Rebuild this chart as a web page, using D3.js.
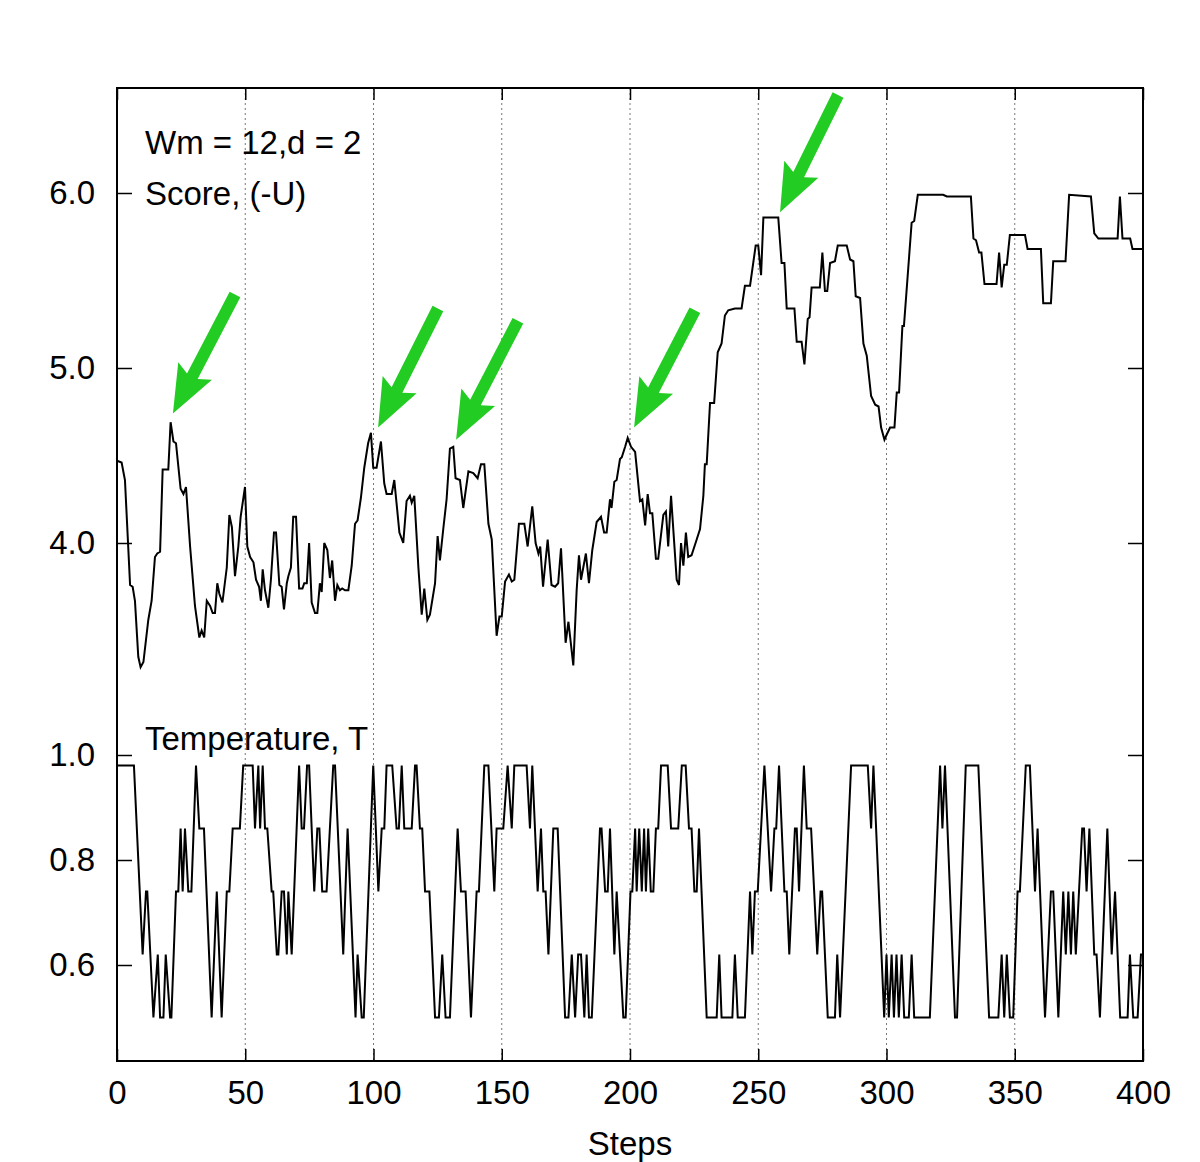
<!DOCTYPE html>
<html>
<head>
<meta charset="utf-8">
<script src="https://cdn.jsdelivr.net/npm/d3@7"></script>
<style>
  body { margin: 0; background: #fff; }
  text { font-family: "Liberation Sans", Arial, sans-serif; }
</style>
</head>
<body>
<div id="chart"></div>
<script>
// score, (-U) : [step, value]
var scorePts = [[0,4.47],[1.8,4.46],[3.1,4.36],[5.1,3.76],[6.1,3.75],[7,3.67],[8.3,3.35],[9.2,3.29],[10.3,3.32],[12.2,3.56],[13.5,3.67],[14.8,3.92],[15.7,3.94],[16.8,3.95],[17.8,4.42],[20,4.42],[20.9,4.69],[22,4.58],[23,4.57],[24.8,4.31],[25.9,4.28],[26.9,4.32],[28.5,3.98],[30.4,3.64],[32.1,3.46],[33,3.50],[34,3.46],[35,3.67],[36.3,3.64],[37.3,3.60],[38.2,3.60],[39.1,3.77],[39.9,3.71],[41.1,3.66],[42.8,3.86],[43.8,4.16],[44.8,4.09],[46,3.81],[47.3,3.98],[48.2,4.15],[49.9,4.32],[50.8,3.98],[51.9,3.92],[53.2,3.89],[54.2,3.79],[55.4,3.75],[56.1,3.67],[56.8,3.85],[57.7,3.73],[59,3.63],[60,3.79],[61.2,4.06],[62,4.06],[63.3,3.76],[64.2,3.75],[65.1,3.62],[66.2,3.77],[66.8,3.81],[67.8,3.86],[68.7,4.15],[69.8,4.15],[71,3.74],[72.3,3.74],[73,3.77],[74,3.77],[74.9,4.00],[75.9,3.66],[77.2,3.60],[78.1,3.60],[79.1,3.77],[79.8,3.72],[80.8,4.00],[82,3.96],[83,3.80],[83.9,3.90],[85,3.67],[85.9,3.76],[86.9,3.73],[87.8,3.74],[88.9,3.73],[90.2,3.73],[91.5,3.87],[92.8,4.11],[93.8,4.13],[95.1,4.26],[96.4,4.43],[97.9,4.57],[99,4.63],[99.9,4.43],[101.2,4.43],[102.9,4.58],[104.2,4.34],[105.1,4.28],[107.1,4.28],[108.1,4.36],[110.1,4.06],[111.6,4.00],[112.9,4.24],[114.2,4.27],[114.9,4.23],[115.9,4.27],[117.5,3.86],[118.8,3.59],[119.8,3.74],[121,3.56],[122,3.59],[124,3.77],[125,4.04],[125.9,3.90],[127.2,4.08],[128.5,4.25],[129.8,4.54],[131.1,4.55],[132,4.37],[133.7,4.36],[135,4.20],[137,4.41],[138.9,4.40],[140.6,4.37],[141.9,4.45],[143.2,4.45],[144.8,4.11],[146.1,4.02],[148,3.47],[149.1,3.58],[150,3.58],[151.3,3.78],[152.8,3.82],[153.9,3.78],[154.9,3.79],[156.7,4.11],[158.8,4.11],[160.1,3.98],[161.9,4.21],[163.2,4.00],[164.3,3.94],[165,3.98],[166.1,3.75],[167.9,4.02],[169.4,3.76],[170.8,3.75],[172,3.77],[173.1,3.97],[174.9,3.43],[176,3.55],[177.9,3.30],[179.2,3.73],[180.1,3.93],[180.9,3.79],[182.8,3.94],[184,3.77],[185.3,3.96],[187,4.12],[188.7,4.15],[189.9,4.06],[190.9,4.06],[192.2,4.25],[192.8,4.20],[193.9,4.35],[194.8,4.36],[196.1,4.48],[196.8,4.49],[198.1,4.55],[199.1,4.60],[200.4,4.55],[202,4.52],[203.9,4.24],[204.8,4.25],[205.9,4.10],[206.9,4.28],[207.8,4.17],[208.7,4.17],[210.1,3.91],[211,3.91],[213,4.16],[214,4.18],[214.9,3.98],[216,4.27],[218.2,3.79],[219.1,3.76],[219.9,4.00],[220.8,3.87],[221.8,4.06],[222.7,3.92],[224,3.93],[226,4.02],[227.3,4.08],[228.6,4.27],[229.2,4.45],[229.9,4.45],[231.2,4.80],[232.8,4.80],[234.2,5.09],[235.7,5.14],[237,5.30],[238.3,5.33],[240.9,5.34],[243.5,5.34],[244.8,5.47],[246.8,5.47],[249,5.70],[250,5.70],[251.1,5.53],[252,5.86],[257.8,5.86],[259.1,5.60],[260.2,5.60],[261.1,5.34],[264.1,5.34],[265,5.15],[266.9,5.15],[268,5.02],[269.3,5.28],[270,5.29],[270.8,5.46],[274,5.46],[275,5.66],[276,5.44],[276.9,5.44],[278,5.60],[279.9,5.61],[281,5.70],[284.5,5.70],[285.8,5.62],[287.1,5.61],[288,5.41],[289.7,5.40],[291,5.14],[292.3,5.07],[294,4.84],[295.6,4.79],[296.9,4.78],[297.9,4.66],[299.2,4.59],[300.1,4.62],[301.4,4.66],[303.1,4.66],[304,4.86],[304.9,4.86],[306.2,5.24],[306.8,5.24],[309.8,5.83],[310.8,5.84],[312.2,5.99],[322.1,5.99],[323.5,5.98],[332.9,5.98],[333.9,5.74],[334.9,5.73],[336.1,5.66],[337,5.66],[338.2,5.48],[342.9,5.48],[343.9,5.66],[344.9,5.46],[345.9,5.59],[346.9,5.59],[348.1,5.76],[354,5.76],[355,5.68],[360.2,5.68],[361.1,5.37],[364.1,5.37],[365,5.61],[369.8,5.61],[371.2,5.99],[379.7,5.98],[381,5.77],[382.6,5.74],[390.1,5.74],[391,5.98],[392,5.74],[395,5.74],[395.9,5.68],[400,5.68]];

// temperature levels and [step, level index]
var tempLevels = [0.50, 0.62, 0.74, 0.86, 0.98];
var tempPts = [[0,4],[6.6,4],[10,1],[11.3,2],[11.8,2],[14.2,0],[15.9,1],[16.8,0],[18.1,0],[19,1],[20.7,0],[21.2,0],[23,2],[23.9,2],[24.8,3],[25.6,2],[26.5,3],[27.8,2],[29,2],[30.8,4],[32.1,3],[33.9,3],[36.9,0],[38.9,2],[40.8,0],[42.8,2],[43.8,2],[45.1,3],[47.9,3],[49.2,4],[52.9,4],[53.8,3],[55.1,4],[55.8,3],[56.8,4],[57.7,3],[58.6,3],[60.3,2],[60.9,2],[62.3,1],[62.9,1],[64.2,2],[65.1,2],[66.2,1],[66.8,2],[68.1,1],[71,4],[72,3],[72.9,3],[74.1,4],[74.9,4],[76.9,2],[78.1,3],[78.9,3],[80,2],[81.7,2],[84.3,4],[85,4],[88.2,1],[89.9,3],[93,0],[93.8,1],[95.4,0],[96.2,0],[99.9,4],[101.9,2],[103.2,3],[104.2,3],[105.1,4],[107.3,4],[109,3],[109.9,3],[111,4],[112,3],[114.9,3],[116.2,4],[116.8,4],[118.1,3],[119,3],[120.1,2],[121.8,2],[124,0],[125.5,0],[126.8,1],[128.1,0],[129.8,0],[132.8,3],[134.1,2],[135.9,2],[138,0],[140.2,2],[141.1,2],[143.2,4],[144.8,4],[147.1,2],[148,3],[150.6,3],[152.3,4],[153.9,3],[154.9,4],[159.7,4],[161,3],[161.9,4],[164,2],[165.3,3],[166.2,2],[167.1,2],[168.2,1],[170.1,3],[171.8,3],[174.7,0],[176,0],[177.3,1],[178.6,0],[179.8,1],[180.9,1],[182.2,0],[183.1,1],[184,0],[185.1,0],[188.3,3],[188.9,3],[190.3,2],[191.3,2],[192.2,3],[193.9,1],[194.8,2],[197.4,0],[198.3,0],[200.2,2],[200.9,2],[202,3],[202.6,2],[203.6,3],[204.6,2],[205.5,3],[206.2,2],[207.1,3],[208.1,2],[209.1,2],[210.1,3],[211,3],[212.1,4],[214.7,4],[216,3],[218.8,3],[220.2,4],[221.7,4],[223,3],[224,3],[225.1,2],[226,2],[226.9,3],[229.9,0],[233.8,0],[234.8,1],[235.7,0],[239.9,0],[240.9,1],[242,0],[244.8,0],[246.8,2],[247.7,1],[248.7,2],[249.8,2],[252.4,4],[255,2],[256.3,3],[257,3],[258.1,4],[260.2,2],[261.1,2],[262.1,1],[264.3,3],[265,3],[265.9,2],[267.8,4],[268.9,3],[270.6,3],[273,1],[274.3,2],[274.9,2],[277.1,0],[279.9,0],[280.8,1],[281.9,0],[286.2,4],[292.7,4],[294,3],[294.9,4],[299.1,0],[300,1],[300.9,0],[302,1],[302.9,0],[303.9,1],[304.8,0],[305.9,1],[306.9,0],[308.7,0],[309.8,1],[310.8,0],[316.9,0],[320.9,4],[321.8,3],[322.8,4],[326.7,0],[327.5,0],[330.9,4],[335.8,4],[340,0],[343.6,0],[344.9,1],[345.9,0],[346.9,1],[348.1,0],[349.4,0],[351.1,2],[352,2],[354.3,4],[355.9,4],[357.9,2],[358.9,3],[361.8,0],[364.1,2],[365,2],[367,0],[368.9,2],[369.9,1],[370.9,2],[371.9,1],[372.8,2],[373.8,1],[376.3,3],[377,3],[378,2],[379.1,3],[381,1],[381.9,1],[383.2,0],[386.1,3],[387.8,1],[389.1,2],[391.1,0],[394,0],[394.9,1],[396.2,0],[397.9,0],[399.2,1],[400,1]];

var xTicks = [0, 50, 100, 150, 200, 250, 300, 350, 400];
var scoreTicks = [4.0, 5.0, 6.0];
var tempTicks = [0.6, 0.8, 1.0];

// arrows: tip (step, score) and tail (step, score)
var arrows = [
  {tip: [21.8, 4.74], tail: [46.0, 5.42]},
  {tip: [101.8, 4.66], tail: [125.1, 5.34]},
  {tip: [132.2, 4.59], tail: [156.3, 5.27]},
  {tip: [201.6, 4.66], tail: [225.3, 5.33]},
  {tip: [258.5, 5.89], tail: [281.1, 6.56]}
];

var W = 1200, H = 1162;
var pL = 117, pR = 1143, pT = 88, pB = 1061;
var fs = 33;
var font = '"Liberation Sans", Arial, sans-serif';

var svg = d3.select('#chart')
            .append('svg')
            .attr('width', W)
            .attr('height', H);

var x = d3.scaleLinear().domain([0, 400]).range([pL, pR]);
var yScore = d3.scaleLinear().domain([4, 6]).range([543, 193]);
var yTemp = d3.scaleLinear().domain([0.6, 1.0]).range([965, 755]);

// dotted grid
svg.append('g')
  .selectAll('line')
  .data(xTicks.filter(function(d){ return d > 0 && d < 400; }))
  .enter().append('line')
  .attr('x1', function(d){ return x(d); })
  .attr('x2', function(d){ return x(d); })
  .attr('y1', pT)
  .attr('y2', pB)
  .attr('stroke', '#777')
  .attr('stroke-width', 1)
  .attr('stroke-dasharray', '2,3');

// x axis
var gx = svg.append('g').attr('transform', 'translate(0,' + pB + ')')
  .call(d3.axisBottom(x).tickValues(xTicks).tickFormat(d3.format('d'))
    .tickSizeInner(-12).tickSizeOuter(0).tickPadding(20));
gx.select('.domain').remove();
gx.selectAll('text').attr('font-size', fs).attr('fill', '#000').style('font-family', font);
gx.selectAll('line').attr('stroke-width', 1.5);

var gxt = svg.append('g').attr('transform', 'translate(0,' + pT + ')')
  .call(d3.axisTop(x).tickValues(xTicks).tickFormat('').tickSizeInner(-12).tickSizeOuter(0));
gxt.select('.domain').remove();
gxt.selectAll('line').attr('stroke-width', 1.5);

function yAx(scale, ticks){
  var g = svg.append('g').attr('transform', 'translate(' + pL + ',0)')
    .call(d3.axisLeft(scale).tickValues(ticks).tickFormat(d3.format('.1f'))
      .tickSizeInner(-15).tickSizeOuter(0).tickPadding(22));
  g.select('.domain').remove();
  g.selectAll('text').attr('font-size', fs).attr('fill', '#000').style('font-family', font);
  g.selectAll('line').attr('stroke-width', 1.5);
  var r = svg.append('g').attr('transform', 'translate(' + pR + ',0)')
    .call(d3.axisRight(scale).tickValues(ticks).tickFormat('')
      .tickSizeInner(-15).tickSizeOuter(0));
  r.select('.domain').remove();
  r.selectAll('line').attr('stroke-width', 1.5);
}
yAx(yScore, scoreTicks);
yAx(yTemp, tempTicks);

// lines
var scoreLine = d3.line()
  .x(function(d){ return x(d[0]); })
  .y(function(d){ return yScore(d[1]); });
var tempLine = d3.line()
  .x(function(d){ return x(d[0]); })
  .y(function(d){ return yTemp(tempLevels[d[1]]); });

svg.append('path').datum(scorePts)
  .attr('d', scoreLine)
  .attr('fill', 'none')
  .attr('stroke', '#000')
  .attr('stroke-width', 2);

svg.append('path').datum(tempPts)
  .attr('d', tempLine)
  .attr('fill', 'none')
  .attr('stroke', '#000')
  .attr('stroke-width', 2);

// frame
svg.append('rect')
  .attr('x', pL).attr('y', pT)
  .attr('width', pR - pL).attr('height', pB - pT)
  .attr('fill', 'none')
  .attr('stroke', '#000')
  .attr('stroke-width', 2);

// labels
function label(txt, px, py){
  svg.append('text')
    .attr('x', px).attr('y', py)
    .attr('font-size', fs)
    .attr('fill', '#000')
    .style('font-family', font)
    .text(txt);
}
label('Wm = 12,d = 2', 145, 154);
label('Score, (-U)', 145, 205);
label('Temperature, T', 145, 750);

svg.append('text')
  .attr('x', (pL + pR) / 2).attr('y', 1155)
  .attr('text-anchor', 'middle')
  .attr('font-size', fs)
  .style('font-family', font)
  .text('Steps');

// green arrows
arrows.forEach(function(a){
  var tx = x(a.tip[0]), ty = yScore(a.tip[1]);
  var sx = x(a.tail[0]), sy = yScore(a.tail[1]);
  var dx = tx - sx, dy = ty - sy;
  var len = Math.sqrt(dx*dx + dy*dy);
  var ux = dx / len, uy = dy / len;
  var nx = -uy, ny = ux;
  var headLen = 48, headW = 19, shaftW = 6;
  var bx = tx - ux * headLen, by = ty - uy * headLen;
  var pts = [
    [sx + nx*shaftW, sy + ny*shaftW],
    [bx + nx*shaftW + ux*6, by + ny*shaftW + uy*6],
    [bx + nx*headW, by + ny*headW],
    [tx, ty],
    [bx - nx*headW, by - ny*headW],
    [bx - nx*shaftW + ux*6, by - ny*shaftW + uy*6],
    [sx - nx*shaftW, sy - ny*shaftW]
  ];
  svg.append('polygon')
    .attr('points', pts.map(function(p){ return p.join(','); }).join(' '))
    .attr('fill', '#22cc22');
});
</script>
</body>
</html>
